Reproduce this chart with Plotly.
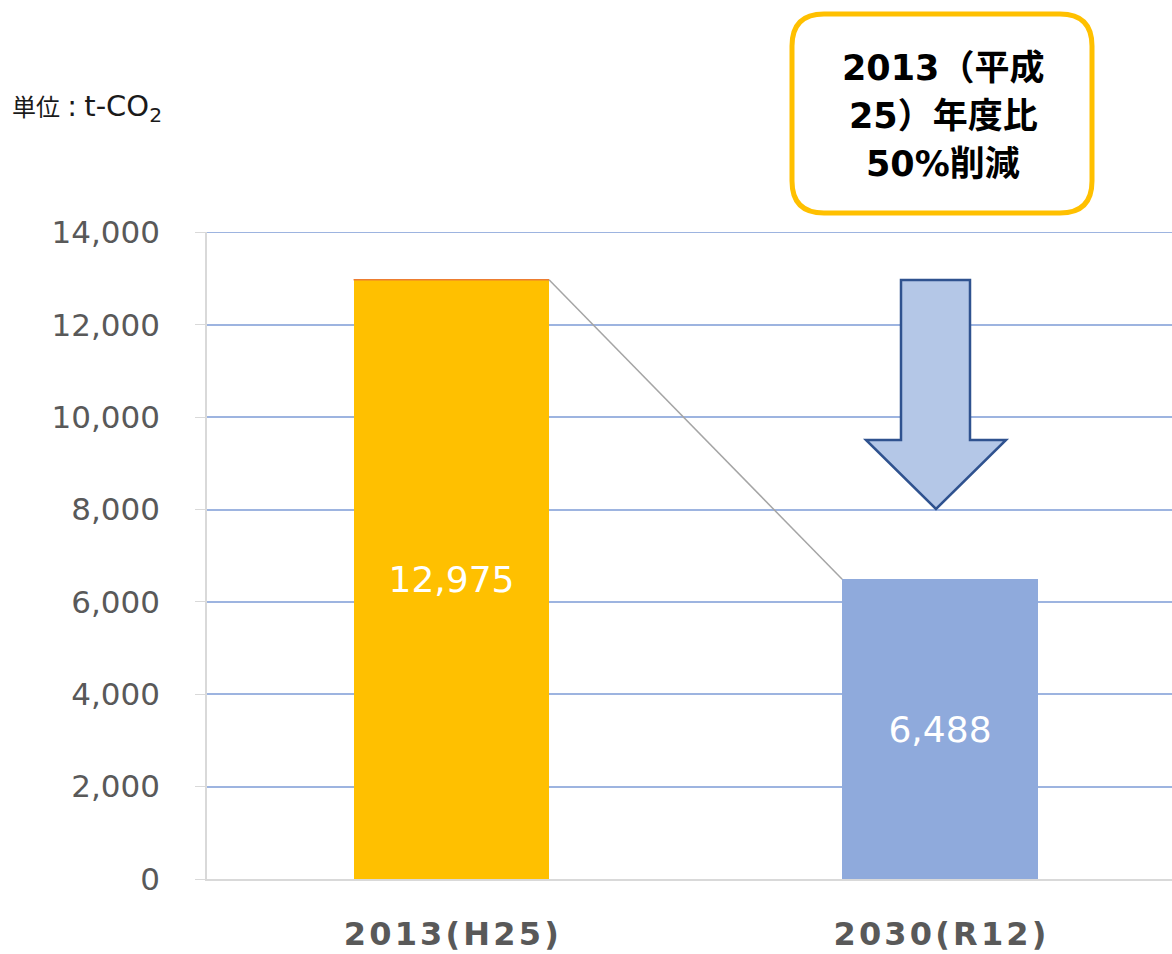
import plotly.graph_objects as go

categories = ["2013(H25)", "2030(R12)"]
values = [12975, 6488]
bar_colors = ["#FFC000", "#8FAADC"]
y_ticks = [0, 2000, 4000, 6000, 8000, 10000, 12000, 14000]
box_lines = ["2013（平成", "25）年度比", "50%削減"]

W, H = 1172, 954
ML, MR, MT, MB = 207, 0, 232, 75
PW, PH = W - ML - MR, H - MT - MB
BAR_W = 0.4
GRID = "#9DB4E0"

def px(x):
    return (x - ML) / PW

def py(y):
    return (H - MB - y) / PH

fig = go.Figure()
fig.add_trace(go.Bar(
    x=categories, y=values, width=BAR_W,
    marker=dict(color=bar_colors, line=dict(width=0)),
    texttemplate="%{y:,}", textposition="inside", insidetextanchor="middle",
    textfont=dict(family="DejaVu Sans", size=36, color="white"),
    hoverinfo="skip",
))

shapes = []
shapes.append(dict(type="line", xref="paper", yref="y", x0=0, x1=1,
                   y0=y_ticks[-1], y1=y_ticks[-1], layer="below",
                   line=dict(color=GRID, width=1.5)))
shapes.append(dict(type="line", xref="x", yref="y", x0=-BAR_W/2, x1=BAR_W/2,
                   y0=values[0], y1=values[0], line=dict(color="#ED7D31", width=1.5)))
shapes.append(dict(type="line", xref="x", yref="y", x0=BAR_W/2, y0=values[0],
                   x1=1 - BAR_W/2, y1=values[1], line=dict(color="#A5A5A5", width=1.5)))

arrow_pts = [(901, 280), (970, 280), (970, 440), (1006, 440), (936, 509),
             (866, 440), (901, 440)]
path = "M " + " L ".join(f"{px(a):.5f},{py(b):.5f}" for a, b in arrow_pts) + " Z"
shapes.append(dict(type="path", xref="paper", yref="paper", path=path,
                   fillcolor="#B4C7E7", line=dict(color="#2F528F", width=2.5)))

x0, x1, y0, y1, r = 792, 1092, 14, 213, 32
def P(a, b):
    return f"{px(a):.5f},{py(b):.5f}"
box = (f"M {P(x0 + r, y0)} L {P(x1 - r, y0)} Q {P(x1, y0)} {P(x1, y0 + r)} "
       f"L {P(x1, y1 - r)} Q {P(x1, y1)} {P(x1 - r, y1)} "
       f"L {P(x0 + r, y1)} Q {P(x0, y1)} {P(x0, y1 - r)} "
       f"L {P(x0, y0 + r)} Q {P(x0, y0)} {P(x0 + r, y0)} Z")
shapes.append(dict(type="path", xref="paper", yref="paper", path=box,
                   fillcolor="white", line=dict(color="#FFC000", width=5)))

annotations = []
for i, t in enumerate(box_lines):
    annotations.append(dict(text=f"<b>{t}</b>", xref="paper", yref="paper",
                            x=px(943), y=py(68 + 48 * i), showarrow=False,
                            xanchor="center", yanchor="middle",
                            font=dict(family="DejaVu Sans, Noto Sans CJK JP", size=35, color="black")))
unit_text = ('<span style="font-family:Noto Sans CJK JP;font-size:24px">単位</span>'
             '\u2005:\u2005t-CO<sub>2</sub>')
annotations.append(dict(text=unit_text, xref="paper", yref="paper",
                        x=px(10), y=py(107), showarrow=False, xanchor="left",
                        yanchor="middle",
                        font=dict(family="DejaVu Sans, Noto Sans CJK JP", size=29, color="#1a1a1a")))

fig.update_layout(
    width=W, height=H,
    margin=dict(l=ML, r=MR, t=MT, b=MB, pad=0),
    paper_bgcolor="white", plot_bgcolor="white",
    showlegend=False, bargap=0,
    shapes=shapes, annotations=annotations,
    xaxis=dict(type="category", range=[-0.5, 1.475], showline=True,
               linecolor="#D9D9D9", linewidth=1.5, showgrid=False, ticks="",
               tickvals=categories,
               ticktext=["\u200a".join(c) for c in categories],
               ticklabelstandoff=26,
               tickfont=dict(family="DejaVu Sans", size=32, color="#595959", weight="bold")),
    yaxis=dict(range=[0, 14008], tickvals=y_ticks, tickformat=",",
               showgrid=True, gridcolor=GRID, gridwidth=1.5,
               showline=True, linecolor="#D9D9D9", linewidth=1.5,
               ticks="outside", ticklen=10, tickcolor="#D9D9D9",
               ticklabelstandoff=29, zeroline=False,
               tickfont=dict(family="DejaVu Sans", size=31, color="#595959")),
)

fig.write_html("out.html", config={"displayModeBar": False},
               post_script="document.body.style.margin='0px';")
